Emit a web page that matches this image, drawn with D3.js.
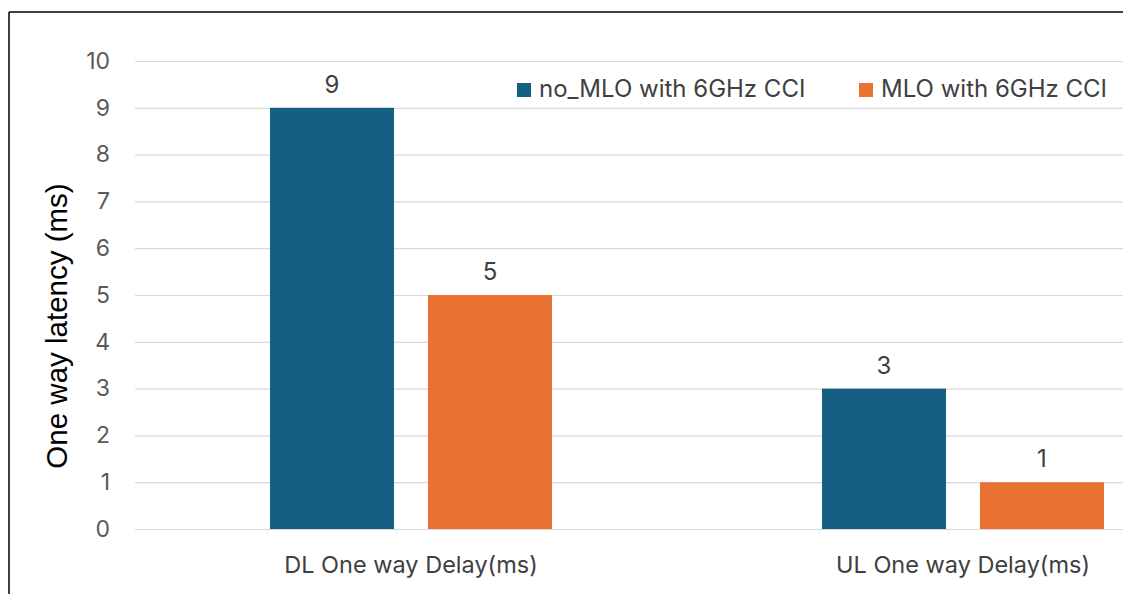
<!DOCTYPE html>
<html>
<head>
<meta charset="utf-8">
<script src="https://cdn.jsdelivr.net/npm/d3@7"></script>
<style>
  html, body { margin: 0; padding: 0; background: #fff; }
  svg { display: block; }
</style>
</head>
<body>
<svg id="chart" width="1123" height="594"></svg>
<script>
const categories = ["DL One way Delay(ms)", "UL One way Delay(ms)"];
const seriesNames = ["no_MLO with 6GHz CCI", "MLO with 6GHz CCI"];
const noMLO = [9, 3];
const MLO = [5, 1];
const yTicks = [0, 1, 2, 3, 4, 5, 6, 7, 8, 9, 10];
const colors = ["#155F82", "#E97132"];

const svg = d3.select("#chart");
const W = 1123, H = 594;
const font = "Inter, 'Liberation Sans', Arial, sans-serif";

// border (top and left visible)
svg.append("line").attr("x1", 9).attr("x2", W).attr("y1", 12).attr("y2", 12)
  .attr("stroke", "#000").attr("stroke-width", 1.5);
svg.append("line").attr("x1", 9).attr("x2", 9).attr("y1", 12).attr("y2", H)
  .attr("stroke", "#000").attr("stroke-width", 1.5);

const plotLeft = 135, plotRight = 1239, plotTop = 61, plotBottom = 529;

const y = d3.scaleLinear().domain([0, 10]).range([plotBottom, plotTop]);
const x0 = d3.scaleBand().domain(categories).range([plotLeft, plotRight]).paddingInner(0).paddingOuter(0);
const groupW = 282;
const x1 = d3.scaleBand().domain(seriesNames).range([0, groupW]).paddingInner(34 / 158).paddingOuter(0);

// gridlines
const yAxis = d3.axisLeft(y).tickValues(yTicks).tickSize(-(W - plotLeft)).tickPadding(25);
const gAxis = svg.append("g").attr("transform", `translate(${plotLeft},0)`).call(yAxis);
gAxis.select(".domain").remove();
gAxis.selectAll(".tick line").attr("stroke", "#D9D9D9").attr("stroke-width", 1.2);
gAxis.selectAll(".tick text").attr("fill", "#595959").attr("font-size", 23).attr("font-family", font);

// bars
const data = categories.map((c, i) => ({ cat: c, vals: [noMLO[i], MLO[i]] }));
const groups = svg.append("g").selectAll("g").data(data).join("g")
  .attr("transform", d => `translate(${x0(d.cat) + (x0.bandwidth() - groupW) / 2},0)`);
groups.selectAll("rect").data(d => d.vals.map((v, j) => ({ v, s: seriesNames[j], j })))
  .join("rect")
  .attr("x", d => x1(d.s))
  .attr("width", x1.bandwidth())
  .attr("y", d => y(d.v))
  .attr("height", d => y(0) - y(d.v))
  .attr("fill", d => colors[d.j]);
groups.selectAll("text.val").data(d => d.vals.map((v, j) => ({ v, s: seriesNames[j], j })))
  .join("text").attr("class", "val")
  .attr("x", d => x1(d.s) + x1.bandwidth() / 2)
  .attr("y", d => y(d.v) - 15)
  .attr("text-anchor", "middle")
  .attr("fill", "#404040").attr("font-size", 24).attr("font-family", font)
  .text(d => d.v);

// category labels
svg.append("g").selectAll("text").data(categories).join("text")
  .attr("x", d => x0(d) + x0.bandwidth() / 2)
  .attr("y", 573)
  .attr("text-anchor", "middle")
  .attr("fill", "#404040").attr("font-size", 23.5).attr("font-family", font)
  .text(d => d);

// axis title
svg.append("text")
  .attr("transform", `translate(67,326) rotate(-90)`)
  .attr("text-anchor", "middle")
  .attr("fill", "#000").attr("font-size", 29.5).attr("font-family", "'Liberation Sans', Arial, sans-serif")
  .text("One way latency (ms)");

// legend
const legendX = [517, 859];
const lg = svg.append("g").selectAll("g").data(seriesNames).join("g")
  .attr("transform", (d, i) => `translate(${legendX[i]},83)`);
lg.append("rect").attr("width", 14).attr("height", 14).attr("fill", (d, i) => colors[i]);
lg.append("text").attr("x", 22).attr("y", 14)
  .attr("fill", "#404040").attr("font-size", 24).attr("font-family", font)
  .text(d => d);
</script>
</body>
</html>
